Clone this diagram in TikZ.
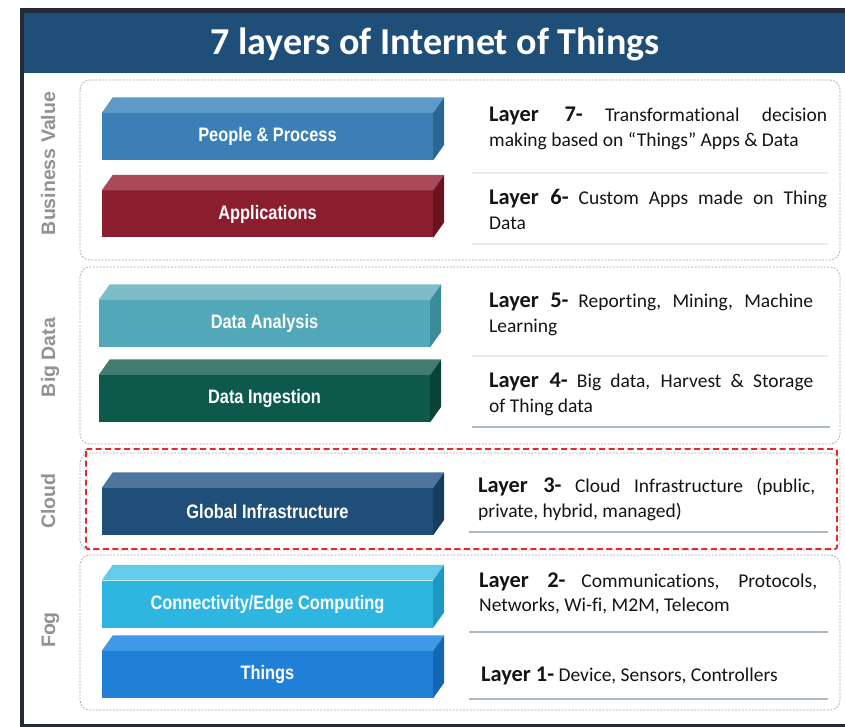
\documentclass[tikz,border=0pt]{standalone}
\usepackage{fontspec}
\usepackage{graphicx}
\setmainfont{Carlito}[Ligatures=NoCommon]
\newfontfamily\arialfam{Liberation Sans}
\usetikzlibrary{calc}

\definecolor{framedark}{HTML}{222B36}
\definecolor{titleblue}{HTML}{1F4E79}
\definecolor{lblgray}{HTML}{929292}
\definecolor{grpgray}{HTML}{A8A8A8}
\definecolor{redbox}{HTML}{E8262B}
\definecolor{txtblack}{HTML}{141414}
\definecolor{lineA}{HTML}{A9BAC6}
\definecolor{lineB}{HTML}{E4ECF1}
\definecolor{ppF}{HTML}{3A7FB5}\definecolor{ppT}{HTML}{5D9AC8}\definecolor{ppS}{HTML}{2A6593}
\definecolor{apF}{HTML}{8C1D2F}\definecolor{apT}{HTML}{A84A59}\definecolor{apS}{HTML}{6A1422}
\definecolor{daF}{HTML}{52A7B8}\definecolor{daT}{HTML}{7DBDC8}\definecolor{daS}{HTML}{3D8A9A}
\definecolor{diF}{HTML}{0D5A4D}\definecolor{diT}{HTML}{417B71}\definecolor{diS}{HTML}{08433A}
\definecolor{giF}{HTML}{1F4E79}\definecolor{giT}{HTML}{4D759D}\definecolor{giS}{HTML}{163D60}
\definecolor{coF}{HTML}{2EB6E1}\definecolor{coT}{HTML}{62CCEA}\definecolor{coS}{HTML}{1E98C2}
\definecolor{thF}{HTML}{2080D8}\definecolor{thT}{HTML}{3F99E6}\definecolor{thS}{HTML}{1567B6}

\newcommand\barfnt{\arialfam\bfseries\fontsize{19.5}{22}\selectfont}
\newcommand\lblfnt{\arialfam\bfseries\fontsize{19.5}{22}\selectfont}
\newcommand\regfnt{\fontsize{19.5}{25}\selectfont}
\newcommand\lyr[1]{{\fontsize{22.4}{25}\selectfont\bfseries #1}}

\tikzset{
  barface/.style={inner sep=0pt, minimum width=331pt, minimum height=47pt, text=white, font=\barfnt},
  grpbox/.style={draw=grpgray, line width=0.7pt, dash pattern=on 2pt off 1.4pt, rounded corners=10pt},
  redframe/.style={draw=redbox, line width=1.8pt, dash pattern=on 6pt off 3.5pt, rounded corners=2pt},
  sidelbl/.style={rotate=90, anchor=base, text=lblgray, font=\lblfnt, inner sep=0pt},
  txtline/.style={anchor=base west, inner sep=0pt, text=txtblack, font=\regfnt},
  uline/.style={draw=lineA, line width=1.4pt},
  fline/.style={draw=lineB, line width=1.2pt},
}

\newcommand\iotbar[7]{%
  \node[barface, fill=#4] (#1) at (#2,#3) {\scalebox{0.84}[1]{#7}};
  \fill[#5] (#1.north west) -- ++(11,-15.5) -- ($(#1.north east)+(11,-15.5)$) -- (#1.north east) -- cycle;
  \fill[#6] (#1.north east) -- ++(11,-15.5) -- ($(#1.south east)+(11,-15.5)$) -- (#1.south east) -- cycle;
}

\begin{document}
\begin{tikzpicture}[x=1pt,y=-1pt]
\useasboundingbox (0,0) rectangle (845,727);
\fill[white] (0,0) rectangle (845,727);
% frame and title band
\fill[framedark] (20,8) rectangle (845,727);
\fill[white] (24,12.7) rectangle (845,724);
\fill[titleblue] (24,12.7) rectangle (845,73);
\node[anchor=base, inner sep=0pt, text=white, font=\fontsize{38}{40}\selectfont\bfseries] (title) at (435,55) {7 layers of Internet of Things};

% group boxes
\draw[grpbox] (80,80) rectangle (840,260);
\draw[grpbox] (80,267) rectangle (840,444);
\draw[grpbox] (80,453) rectangle (840,550);
\draw[grpbox] (80,555) rectangle (840,710);
\draw[redframe] (86,449) rectangle (837,549);

% side labels
\node[sidelbl] (lblbv) at (55,163.5) {Business Value};
\node[sidelbl] (lblbd) at (55,357.5) {Big Data};
\node[sidelbl] (lblcl) at (55,501) {Cloud};
\node[sidelbl] (lblfg) at (55,630) {Fog};

% bars
\iotbar{pp}{267.5}{136.5}{ppF}{ppT}{ppS}{People \& Process}
\iotbar{ap}{267.5}{214}{apF}{apT}{apS}{Applications}
\iotbar{da}{264.5}{323.5}{daF}{daT}{daS}{Data Analysis}
\iotbar{di}{264.5}{398.5}{diF}{diT}{diS}{Data Ingestion}
\iotbar{gi}{267.5}{511.5}{giF}{giT}{giS}{Global Infrastructure}
\iotbar{co}{267.5}{604}{coF}{coT}{coS}{Connectivity/Edge Computing}
\iotbar{th}{267.5}{674.5}{thF}{thT}{thS}{Things}

% separator lines under text panels
\coordinate (u7a) at (472,173); \coordinate (u7b) at (828,173);
\coordinate (u6a) at (472,244); \coordinate (u6b) at (828,244);
\coordinate (u5a) at (472,356); \coordinate (u5b) at (828,356);
\coordinate (u4a) at (472,427); \coordinate (u4b) at (830,427);
\coordinate (u3a) at (469,532); \coordinate (u3b) at (828,532);
\coordinate (u2a) at (469,632); \coordinate (u2b) at (828,632);
\coordinate (u1a) at (469,699); \coordinate (u1b) at (828,699);
\draw[fline] (u7a) -- (u7b);
\draw[fline] (u6a) -- (u6b);
\draw[fline] (u5a) -- (u5b);
\draw[uline] (u4a) -- (u4b);
\draw[uline] (u3a) -- (u3b);
\draw[uline] (u2a) -- (u2b);
\draw[uline] (u1a) -- (u1b);

% layer texts
\node[txtline] (t7a) at (489,122) {\makebox[338pt][s]{\lyr{Layer 7-} Transformational decision}};
\node[txtline] (t7b) at (489,147) {making based on “Things” Apps \& Data};
\node[txtline] (t6a) at (489,205) {\makebox[338pt][s]{\lyr{Layer 6-} Custom Apps made on Thing}};
\node[txtline] (t6b) at (489,229.5) {Data};
\node[txtline] (t5a) at (489,307) {\makebox[324pt][s]{\lyr{Layer 5-} Reporting, Mining, Machine}};
\node[txtline] (t5b) at (489,332) {Learning};
\node[txtline] (t4a) at (489,387) {\makebox[324pt][s]{\lyr{Layer 4-} Big data, Harvest \& Storage}};
\node[txtline] (t4b) at (489,412) {of Thing data};
\node[txtline] (t3a) at (478,492) {\makebox[337pt][s]{\lyr{Layer 3-} Cloud Infrastructure (public,}};
\node[txtline] (t3b) at (478,517) {private, hybrid, managed)};
\node[txtline] (t2a) at (479,587) {\makebox[338pt][s]{\lyr{Layer 2-} Communications, Protocols,}};
\node[txtline] (t2b) at (479,611) {Networks, Wi-fi, M2M, Telecom};
\node[txtline] (t1a) at (481,681) {\lyr{Layer 1-} Device, Sensors, Controllers};
\end{tikzpicture}
\end{document}
